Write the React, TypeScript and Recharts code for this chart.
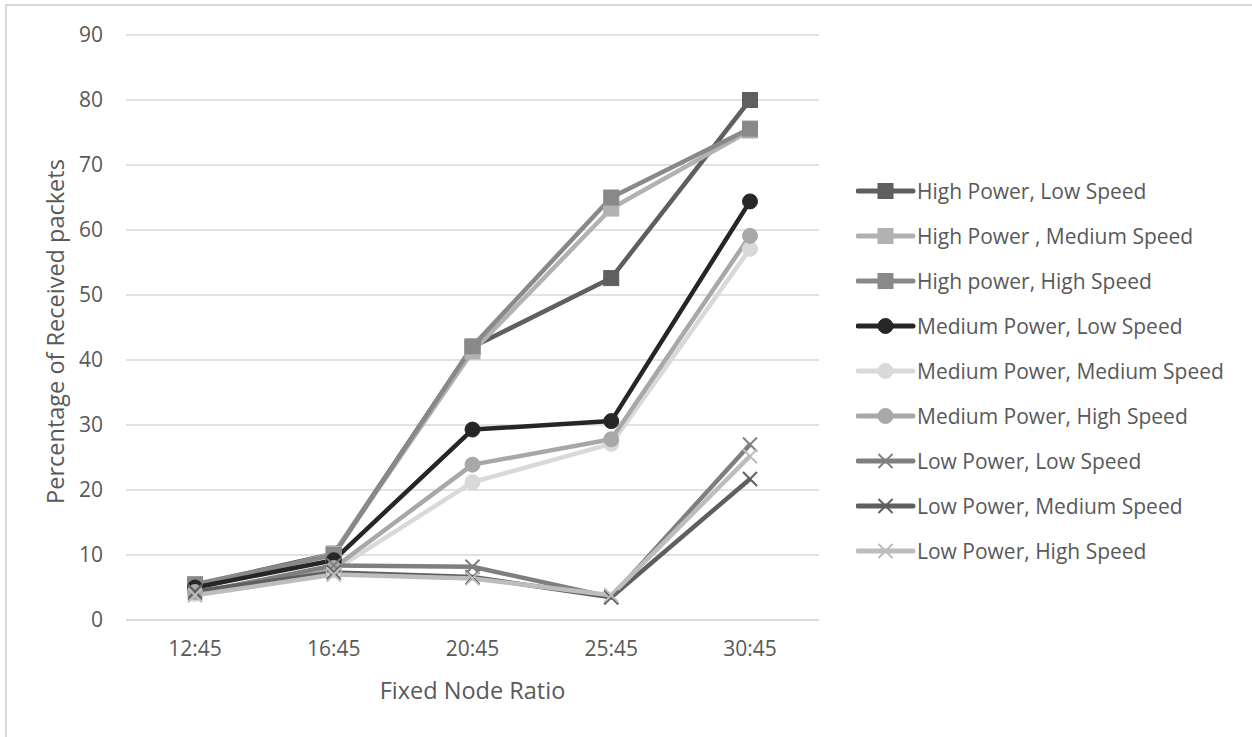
import React from 'react';
import { LineChart, Line, XAxis, YAxis, CartesianGrid, Legend } from 'recharts';

const categories = ['12:45', '16:45', '20:45', '25:45', '30:45'];
const yTicks = [0, 10, 20, 30, 40, 50, 60, 70, 80, 90];

const hpLs = [5.4, 10.2, 42.0, 52.6, 80.0];
const hpMs = [4.8, 10.2, 41.3, 63.3, 75.3];
const hpHs = [5.5, 10.0, 42.1, 65.0, 75.6];
const mpLs = [5.0, 9.2, 29.3, 30.6, 64.4];
const mpMs = [4.0, 7.6, 21.2, 27.1, 57.1];
const mpHs = [4.3, 8.0, 23.9, 27.8, 59.1];
const lpLs = [4.1, 8.4, 8.2, 3.5, 27.0];
const lpMs = [4.4, 7.3, 6.6, 3.5, 21.7];
const lpHs = [3.8, 7.0, 6.4, 3.8, 25.2];

const seriesNames = [
  'High Power, Low Speed',
  'High Power , Medium Speed',
  'High power, High Speed',
  'Medium Power, Low Speed',
  'Medium Power, Medium Speed',
  'Medium Power, High Speed',
  'Low Power, Low Speed',
  'Low Power, Medium Speed',
  'Low Power, High Speed',
];
const seriesValues = [hpLs, hpMs, hpHs, mpLs, mpMs, mpHs, lpLs, lpMs, lpHs];
const seriesColors = ['#5f5f5f', '#b2b2b2', '#898989', '#262626', '#d9d9d9', '#a8a8a8', '#7f7f7f', '#5f5f5f', '#bdbdbd'];
const seriesMarkers = ['square', 'square', 'square', 'circle', 'circle', 'circle', 'cross', 'cross', 'cross'];

const data = categories.map((c, i) => {
  const row: any = { cat: c };
  seriesValues.forEach((vals, s) => {
    row['s' + s] = vals[i];
  });
  return row;
});

const FONT = '"Open Sans", sans-serif';
const TEXT = '#595959';
const FS = 21;
const TITLE_FS = 23.5;

function Marker({ cx, cy, type, color }: any) {
  if (cx == null || cy == null) return null;
  if (type === 'square') {
    return <rect x={cx - 7.5} y={cy - 7.5} width={15} height={15} fill={color} stroke={color} strokeWidth={1} />;
  }
  if (type === 'circle') {
    return <circle cx={cx} cy={cy} r={7.5} fill={color} stroke={color} strokeWidth={1} />;
  }
  return (
    <g stroke={color} strokeWidth={2}>
      <line x1={cx - 7} y1={cy - 7} x2={cx + 7} y2={cy + 7} />
      <line x1={cx - 7} y1={cy + 7} x2={cx + 7} y2={cy - 7} />
    </g>
  );
}

function LegendContent() {
  return (
    <div style={{ fontFamily: FONT, fontSize: FS, color: TEXT }}>
      {seriesNames.map((n, i) => (
        <div key={n} style={{ height: 45, display: 'flex', alignItems: 'center', whiteSpace: 'nowrap' }}>
          <svg width={61} height={20} style={{ display: 'block' }}>
            <line x1={2} y1={10} x2={57} y2={10} stroke={seriesColors[i]} strokeWidth={5} strokeLinecap="round" />
            <Marker cx={29.5} cy={10} type={seriesMarkers[i]} color={seriesColors[i]} />
          </svg>
          <span>{n}</span>
        </div>
      ))}
    </div>
  );
}

export default function App() {
  return (
    <div style={{ position: 'absolute', left: 0, top: 0, width: 1252, height: 737, background: '#fff', overflow: 'hidden' }}>
      <div style={{ position: 'absolute', left: 5, top: 4, width: 1260, height: 760, border: '2px solid #d9d9d9', boxSizing: 'border-box' }} />
      <div style={{ position: 'absolute', left: 0, top: 0 }}>
        <LineChart width={1252} height={737} data={data} margin={{ top: 35, right: 433, bottom: 57, left: 0 }}>
          <CartesianGrid vertical={false} stroke="#d9d9d9" strokeWidth={1.3} />
          <XAxis
            dataKey="cat"
            height={60}
            padding={{ left: 69, right: 69 }}
            axisLine={{ stroke: '#d9d9d9', strokeWidth: 1.3 }}
            tickLine={false}
            tickMargin={15}
            tick={{ fill: TEXT, fontSize: FS, fontFamily: FONT }}
            label={{
              content: (p: any) => {
                const vb = p.viewBox;
                return (
                  <text x={vb.x + vb.width / 2} y={vb.y + 70} textAnchor="middle" dominantBaseline="central" fill={TEXT} fontSize={TITLE_FS} fontFamily={FONT}>
                    Fixed Node Ratio
                  </text>
                );
              },
            }}
          />
          <YAxis
            width={126}
            domain={[0, 90]}
            ticks={yTicks}
            axisLine={false}
            tickLine={false}
            tickMargin={17}
            tick={{ fill: TEXT, fontSize: FS, fontFamily: FONT }}
            label={{
              content: (p: any) => {
                const vb = p.viewBox;
                const x = vb.x + 55;
                const y = vb.y + vb.height / 2 + 4;
                return (
                  <text x={x} y={y} transform={`rotate(-90, ${x}, ${y})`} textAnchor="middle" dominantBaseline="central" fill={TEXT} fontSize={TITLE_FS} fontFamily={FONT}>
                    Percentage of Received packets
                  </text>
                );
              },
            }}
          />
          <Legend
            layout="horizontal"
            align="center"
            verticalAlign="middle"
            content={() => <LegendContent />}
            wrapperStyle={{ left: 856, top: 168, width: 396 }}
          />
          {seriesNames.map((n, i) => (
            <Line
              key={n}
              type="linear"
              dataKey={'s' + i}
              name={n}
              stroke={seriesColors[i]}
              strokeWidth={4.5}
              strokeLinejoin="round"
              isAnimationActive={false}
              activeDot={false}
              dot={(props: any) => (
                <Marker key={n + props.index} cx={props.cx} cy={props.cy} type={seriesMarkers[i]} color={seriesColors[i]} />
              )}
            />
          ))}
        </LineChart>
      </div>
    </div>
  );
}
